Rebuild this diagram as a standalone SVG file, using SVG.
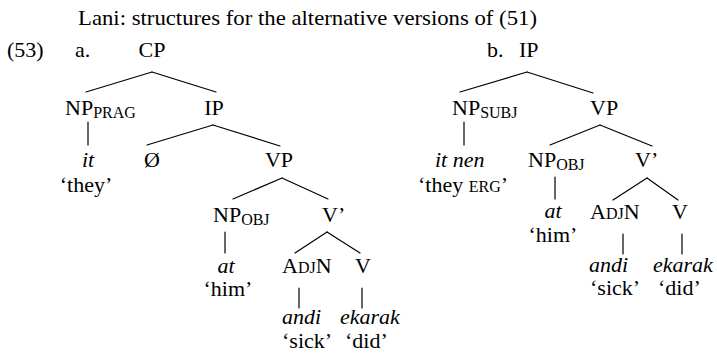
<svg xmlns="http://www.w3.org/2000/svg" width="717" height="356" viewBox="0 0 717 356">
  <style>
    text { font-family: "Liberation Serif", "Times New Roman", serif; font-size: 22px; fill: #000; }
    .it { font-style: italic; }
    .sub { font-size: 16px; }
    .sc { font-size: 16px; }
    .c { text-anchor: middle; }
    .edges line { stroke: #000; stroke-width: 1.2; stroke-linecap: round; }
  </style>
  <rect width="717" height="356" fill="#fff"/>

  <text id="title" x="78" y="25" textLength="459" lengthAdjust="spacingAndGlyphs">Lani: structures for the alternative versions of (51)</text>
  <text id="exnum" x="7" y="57">(53)</text>

  <!-- tree a -->
  <g id="a-label"><text x="75" y="57">a.</text></g>
  <g id="a-CP"><text class="c" x="152" y="57">CP</text></g>
  <g id="a-NPprag"><text x="65" y="115">NP<tspan class="sub" dy="3">PRAG</tspan></text></g>
  <g id="a-IP"><text class="c" x="214" y="115">IP</text></g>
  <g id="a-it"><text class="it c" x="88" y="167">it</text><text class="c" x="86" y="192">‘they’</text></g>
  <g id="a-null"><text class="c" x="152" y="167">Ø</text></g>
  <g id="a-VP"><text class="c" x="279" y="167">VP</text></g>
  <g id="a-NPobj"><text x="213" y="222">NP<tspan class="sub" dy="3">OBJ</tspan></text></g>
  <g id="a-Vbar"><text x="322" y="222">V’</text></g>
  <g id="a-at"><text class="it c" x="226" y="273">at</text><text class="c" x="228" y="296">‘him’</text></g>
  <g id="a-AdjN"><text x="282" y="273">A<tspan class="sc">DJ</tspan>N</text></g>
  <g id="a-V"><text class="c" x="363" y="273">V</text></g>
  <g id="a-andi"><text class="it" x="282" y="324">andi</text><text x="282" y="348">‘sick’</text></g>
  <g id="a-ekarak"><text class="it" x="340" y="324">ekarak</text><text x="345" y="348">‘did’</text></g>

  <!-- tree b -->
  <g id="b-label"><text x="487" y="57">b.</text></g>
  <g id="b-IP"><text x="519" y="57">IP</text></g>
  <g id="b-NPsubj"><text x="452" y="115">NP<tspan class="sub" dy="3">SUBJ</tspan></text></g>
  <g id="b-VP"><text x="590" y="115">VP</text></g>
  <g id="b-itnen"><text class="it" x="435" y="167">it nen</text><text x="418" y="192">‘they <tspan class="sc">ERG</tspan>’</text></g>
  <g id="b-NPobj"><text x="528" y="167">NP<tspan class="sub" dy="3">OBJ</tspan></text></g>
  <g id="b-Vbar"><text x="635" y="167">V’</text></g>
  <g id="b-at"><text class="it c" x="553" y="218">at</text><text class="c" x="553" y="242">‘him’</text></g>
  <g id="b-AdjN"><text x="590" y="219">A<tspan class="sc">DJ</tspan>N</text></g>
  <g id="b-V"><text class="c" x="680" y="219">V</text></g>
  <g id="b-andi"><text class="it" x="589" y="272">andi</text><text x="590" y="295">‘sick’</text></g>
  <g id="b-ekarak"><text class="it" x="653" y="272">ekarak</text><text x="658" y="295">‘did’</text></g>

  <g class="edges" id="connectors">
    <!-- a -->
    <line x1="152" y1="72" x2="86" y2="92"/>
    <line x1="152" y1="72" x2="216" y2="92"/>
    <line x1="88" y1="122" x2="88" y2="145"/>
    <line x1="213" y1="125" x2="147" y2="145"/>
    <line x1="213" y1="125" x2="280" y2="146"/>
    <line x1="282" y1="178" x2="233" y2="199"/>
    <line x1="282" y1="178" x2="328" y2="199"/>
    <line x1="225" y1="232" x2="225" y2="253"/>
    <line x1="327" y1="232" x2="295" y2="253"/>
    <line x1="327" y1="232" x2="360" y2="253"/>
    <line x1="299" y1="288" x2="299" y2="308"/>
    <line x1="362" y1="288" x2="362" y2="308"/>
    <!-- b -->
    <line x1="527" y1="72" x2="460" y2="92"/>
    <line x1="527" y1="72" x2="593" y2="93"/>
    <line x1="464" y1="122" x2="464" y2="145"/>
    <line x1="600" y1="125" x2="550" y2="145"/>
    <line x1="600" y1="125" x2="652" y2="146"/>
    <line x1="555" y1="177" x2="555" y2="199"/>
    <line x1="647" y1="178" x2="613" y2="200"/>
    <line x1="647" y1="178" x2="678" y2="200"/>
    <line x1="623" y1="234" x2="623" y2="254"/>
    <line x1="682" y1="234" x2="682" y2="254"/>
  </g>
</svg>
